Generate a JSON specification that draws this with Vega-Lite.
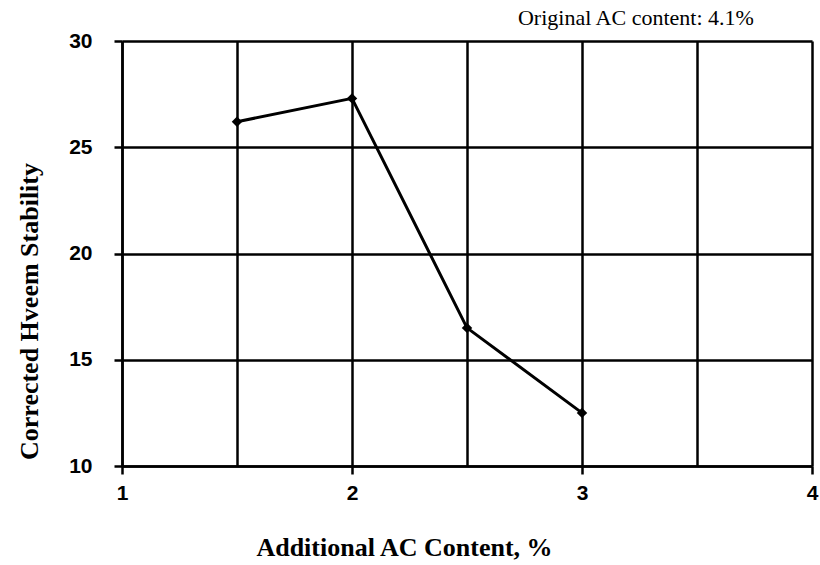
{
  "$schema": "https://vega.github.io/schema/vega-lite/v6.json",
  "width": 690,
  "height": 425,
  "autosize": {"type": "none"},
  "padding": {"left": 122, "top": 41, "right": 8, "bottom": 99},
  "background": "white",
  "title": {
    "text": "Original AC content: 4.1%",
    "anchor": "end",
    "font": "Liberation Serif",
    "fontSize": 22,
    "fontWeight": "normal",
    "color": "black",
    "dx": -64,
    "offset": 0,
    "dy": 0
  },
  "data": {
    "values": [
      {"ac": 1.5, "stability": 26.2},
      {"ac": 2.0, "stability": 27.3},
      {"ac": 2.5, "stability": 16.5},
      {"ac": 3.0, "stability": 12.5}
    ]
  },
  "config": {
    "view": {"stroke": null},
    "axis": {
      "domainColor": "black",
      "domainWidth": 2.5,
      "gridColor": "black",
      "gridWidth": 2.5,
      "gridOpacity": 1,
      "tickColor": "black",
      "tickWidth": 2.5,
      "tickSize": 8,
      "labelFont": "Liberation Sans",
      "labelFontWeight": "bold",
      "labelFontSize": 21,
      "labelColor": "black",
      "labelFlush": false,
      "titleFont": "Liberation Serif",
      "titleFontWeight": "bold",
      "titleFontSize": 26,
      "titleColor": "black"
    }
  },
  "mark": {"type": "line", "color": "black", "strokeWidth": 3, "point": {"shape": "diamond", "size": 110, "filled": true, "color": "black"}},
  "encoding": {
    "x": {
      "field": "ac",
      "type": "quantitative",
      "scale": {"domain": [1, 4], "nice": false, "zero": false},
      "axis": {
        "title": "Additional AC Content, %",
        "values": [1, 1.5, 2, 2.5, 3, 3.5, 4],
        "labelExpr": "datum.value % 1 === 0 ? format(datum.value, 'd') : ''",
        "tickOpacity": {"condition": {"test": "datum.value % 1 === 0", "value": 1}, "value": 0},
        "labelPadding": 8,
        "titleX": 282,
        "titleY": 68,
        "titleAnchor": null
      }
    },
    "y": {
      "field": "stability",
      "type": "quantitative",
      "scale": {"domain": [10, 30], "nice": false, "zero": false},
      "axis": {
        "title": "Corrected Hveem Stability",
        "values": [10, 15, 20, 25, 30],
        "labelPadding": 22,
        "titleX": -80,
        "titleY": 270,
        "titleAngle": -90,
        "titleAlign": "center"
      }
    }
  }
}
